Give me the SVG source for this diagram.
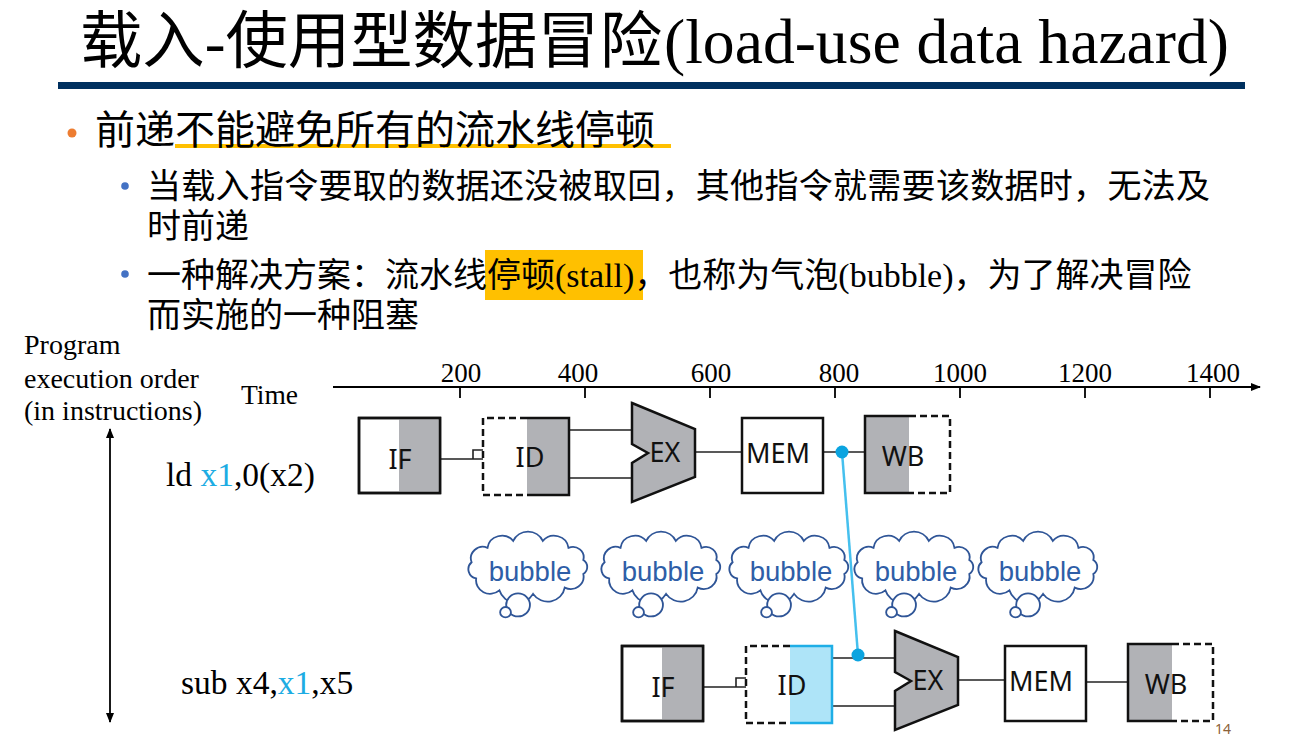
<svg xmlns="http://www.w3.org/2000/svg" width="1309" height="749" viewBox="0 0 1309 749">
<style>
.ser{font-family:"Liberation Serif","Noto Sans CJK SC",serif;fill:#000}
.cjk{font-family:"Liberation Serif","Noto Sans CJK SC",serif;fill:#000}
.stg{font-family:"Noto Sans","Open Sans",sans-serif;font-size:27px;fill:#111;text-anchor:middle}
.box{fill:#fff;stroke:#111;stroke-width:2.5}
.frame{fill:none;stroke:#111;stroke-width:2.5}
.gray{fill:#B1B2B6}
.dash{fill:none;stroke:#111;stroke-width:2.5;stroke-dasharray:7 4}
.wire{fill:none;stroke:#222;stroke-width:1.6}
.alu{fill:#B1B2B6;stroke:#111;stroke-width:2.5;stroke-linejoin:miter}
.cl{fill:#fff;stroke:#2F5597;stroke-width:1.7}
.bt{font-family:"Liberation Sans",Arial,sans-serif;font-size:27.5px;fill:#2E5EA7;text-anchor:middle}
.hi{fill:#1DACE3}
</style>
<defs>
<marker id="ah" viewBox="0 0 10 10" refX="9" refY="5" markerWidth="10" markerHeight="10" markerUnits="userSpaceOnUse" orient="auto-start-reverse">
<path d="M0,1 L10,5 L0,9 Z" fill="#000"/>
</marker>
<g id="cloud">
<path class="cl" d="M-52.2,-5.5 A11 11 0 0 1 -37.5,-19.4 A13.5 13.5 0 0 1 -13.7,-26.1 A15 15 0 0 1 13.7,-26.1 A13.5 13.5 0 0 1 37.5,-19.4 A10 10 0 0 1 51.2,-7.7 A8 8 0 0 1 51.2,5.7 A12 12 0 0 1 34,18.9 A16 16 0 0 1 4.7,24.9 A17 17 0 0 1 -26.5,21.5 A13 13 0 0 1 -48,10 A9 9 0 0 1 -52.2,-5.5 Z"/>
<circle class="cl" cx="-9.2" cy="35.5" r="11"/>
<circle class="cl" cx="-20.8" cy="42.5" r="5"/>
</g>
</defs>

<g id="title">
<text class="cjk" x="80" y="63" font-size="62" textLength="582" lengthAdjust="spacingAndGlyphs">载入-使用型数据冒险</text>
<text class="ser" x="664" y="63" font-size="64" textLength="565" lengthAdjust="spacingAndGlyphs">(load-use data hazard)</text>
<rect x="58" y="82" width="1187" height="7" fill="#00305F"/>
</g>

<g id="bullets">
<circle cx="72" cy="133" r="4.5" fill="#ED7D31"/>
<rect x="175" y="144" width="496" height="4" fill="#FFC000"/>
<text class="cjk" x="95" y="144" font-size="40">前递不能避免所有的流水线停顿</text>
<circle cx="125" cy="186" r="3.8" fill="#4472C4"/>
<text class="cjk" x="147" y="198" font-size="34" textLength="1063">当载入指令要取的数据还没被取回，其他指令就需要该数据时，无法及</text>
<text class="cjk" x="147" y="238" font-size="34">时前递</text>
<circle cx="125" cy="274" r="3.8" fill="#4472C4"/>
<rect x="485" y="250" width="158" height="50" fill="#FFC000"/>
<text class="cjk" x="147" y="287" font-size="34">一种解决方案：流水线停顿(stall)，也称为气泡(bubble)，为了解决冒险</text>
<text class="cjk" x="147" y="327" font-size="34">而实施的一种阻塞</text>
</g>

<g id="axis-labels">
<text class="ser" x="24" y="354" font-size="28">Program</text>
<text class="ser" x="24" y="388" font-size="28">execution order</text>
<text class="ser" x="24" y="420" font-size="28">(in instructions)</text>
<text class="ser" x="241" y="404" font-size="27.5">Time</text>
</g>

<g id="time-axis">
<line x1="333" y1="387" x2="1260" y2="387" stroke="#000" stroke-width="1.8" marker-end="url(#ah)"/>
<path d="M460,387 V398 M585,387 V398 M710,387 V398 M835,387 V398 M960,387 V398 M1085,387 V398 M1210,387 V398" stroke="#000" stroke-width="1.8"/>
<g class="ser" font-size="27" text-anchor="middle">
<text x="461" y="382">200</text>
<text x="578" y="382">400</text>
<text x="711" y="382">600</text>
<text x="839" y="382">800</text>
<text x="960" y="382">1000</text>
<text x="1085" y="382">1200</text>
<text x="1213" y="382">1400</text>
</g>
</g>

<g id="order-arrow">
<line x1="110" y1="429" x2="110" y2="722" stroke="#000" stroke-width="1.8" marker-start="url(#ah)" marker-end="url(#ah)"/>
</g>

<g id="instr-ld">
<text class="ser" x="166" y="486" font-size="33.5">ld <tspan class="hi">x1</tspan>,0(x2)</text>
</g>
<g id="instr-sub">
<text class="ser" x="181" y="694" font-size="33.5">sub x4,<tspan class="hi">x1</tspan>,x5</text>
</g>

<g id="connectors">
<path class="wire" d="M440,459 H483 M473,459 V450 H483"/>
<path class="wire" d="M569,430 H632 M569,478 H632"/>
<path class="wire" d="M695,452 H742"/>
<path class="wire" d="M823,452 H865"/>
<path class="wire" d="M703,687 H746 M736,687 V678 H746"/>
<path class="wire" d="M832,658 H895 M832,706 H895"/>
<path class="wire" d="M958,680 H1005"/>
<path class="wire" d="M1086,682 H1128"/>
<line x1="842" y1="452" x2="858" y2="655" stroke="#45C0EE" stroke-width="2.5"/>
<circle cx="842" cy="452" r="6.5" fill="#0BA4E0"/>
<circle cx="858" cy="655" r="6.5" fill="#0BA4E0"/>
</g>

<g id="ld-IF">
<rect class="box" x="359" y="418" width="81" height="75"/>
<rect class="gray" x="399" y="419.2" width="39.8" height="72.6"/>
<rect class="frame" x="359" y="418" width="81" height="75"/>
<text class="stg" x="400" y="469">IF</text>
</g>
<g id="ld-ID">
<rect class="gray" x="527" y="418" width="42" height="77"/>
<path class="frame" d="M527,418 H569 V495 H527"/>
<path class="dash" d="M527,418 H483 V495 H527"/>
<text class="stg" x="530" y="467">ID</text>
</g>
<g id="ld-EX">
<path class="alu" d="M632,403 L695,429 L695,477 L632,502 L632,463 L648,453 L632,444 Z"/>
<text class="stg" x="665" y="462">EX</text>
</g>
<g id="ld-MEM">
<rect class="box" x="742" y="418" width="81" height="75"/>
<text class="stg" x="778" y="463">MEM</text>
</g>
<g id="ld-WB">
<rect class="gray" x="865" y="416" width="44" height="77"/>
<path class="frame" d="M909,416 H865 V493 H909"/>
<path class="dash" d="M909,416 H950 V493 H909"/>
<text class="stg" x="903" y="466">WB</text>
</g>

<g id="bubble-1"><use href="#cloud" transform="translate(528,568) scale(1.08,1.04)"/><text class="bt" x="530" y="581">bubble</text></g>
<g id="bubble-2"><use href="#cloud" transform="translate(661,568) scale(1.08,1.04)"/><text class="bt" x="663" y="581">bubble</text></g>
<g id="bubble-3"><use href="#cloud" transform="translate(789,568) scale(1.08,1.04)"/><text class="bt" x="791" y="581">bubble</text></g>
<g id="bubble-4"><use href="#cloud" transform="translate(914,568) scale(1.08,1.04)"/><text class="bt" x="916" y="581">bubble</text></g>
<g id="bubble-5"><use href="#cloud" transform="translate(1038,568) scale(1.08,1.04)"/><text class="bt" x="1040" y="581">bubble</text></g>

<g id="sub-IF">
<rect class="box" x="622" y="646" width="81" height="75"/>
<rect class="gray" x="662" y="647.2" width="39.8" height="72.6"/>
<rect class="frame" x="622" y="646" width="81" height="75"/>
<text class="stg" x="663" y="697">IF</text>
</g>
<g id="sub-ID">
<rect x="790" y="646" width="42" height="77" fill="#AEE4F8"/>
<path d="M790,646 H832 V723 H790" fill="none" stroke="#1EAEE6" stroke-width="2.5"/>
<path class="dash" d="M790,646 H746 V723 H790"/>
<text class="stg" x="792" y="695">ID</text>
</g>
<g id="sub-EX">
<path class="alu" d="M895,631 L958,657 L958,705 L895,730 L895,691 L911,681 L895,672 Z"/>
<text class="stg" x="928" y="690">EX</text>
</g>
<g id="sub-MEM">
<rect class="box" x="1005" y="646" width="81" height="75"/>
<text class="stg" x="1041" y="691">MEM</text>
</g>
<g id="sub-WB">
<rect class="gray" x="1128" y="644" width="44" height="77"/>
<path class="frame" d="M1172,644 H1128 V721 H1172"/>
<path class="dash" d="M1172,644 H1213 V721 H1172"/>
<text class="stg" x="1166" y="694">WB</text>
</g>

<g id="page-number">
<text x="1215" y="734" font-family="Noto Sans, sans-serif" font-size="14" fill="#8B6239">14</text>
</g>
</svg>
